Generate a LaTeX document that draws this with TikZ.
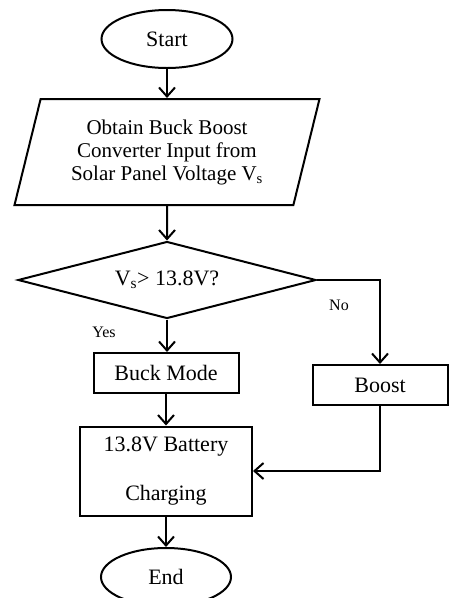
\documentclass[tikz,border=0pt]{standalone}
\usepackage{fontspec}
\setmainfont{Liberation Serif}
\usetikzlibrary{shapes.geometric, arrows.meta}
\begin{document}
\begin{tikzpicture}[x=1pt, y=-1pt, line width=2pt,
		  term/.style={ellipse, draw, minimum width=131pt, minimum height=58pt, font=\fontsize{22}{26}\selectfont},
		  io box/.style={trapezium, draw, trapezium left angle=70, trapezium right angle=110, trapezium stretches body,
		    minimum width=305pt, minimum height=106pt, align=center, font=\fontsize{21}{23}\selectfont},
		  cond box/.style={diamond, draw, aspect=3.9, minimum width=298pt, minimum height=77pt, inner sep=1pt, font=\fontsize{22}{26}\selectfont},
		  proc box/.style={rectangle, draw, align=center, font=\fontsize{22}{26}\selectfont},
		  branch/.style={font=\fontsize{16}{18}\selectfont},
		  flow/.style={-{Straight Barb[length=9pt, width=16pt]}}]
		  \useasboundingbox (0,0) rectangle (448,598);
		  \node[term] (start) at (167,39) {Start};
		  \node[io box] (input) at (167,152) {Obtain Buck Boost\\Converter Input from\\Solar Panel Voltage V\textsubscript{s}};
		  \node[cond box] (dec) at (167,280) {V\textsubscript{s}> 13.8V?};
		  \node[proc box, minimum width=145pt, minimum height=40pt] (buck) at (166,373) {Buck Mode};
		  \node[proc box, minimum width=135pt, minimum height=40pt] (boost) at (380,385) {Boost};
		  \node[proc box, minimum width=172pt, minimum height=89pt] (batt) at (166,471) {13.8V Battery\\[23pt]Charging};
		  \node[term, minimum width=130pt] (end) at (166,577) {End};
		  \node[branch] (yes) at (104,332) {Yes};
		  \node[branch] (no) at (339,305) {No};
		  \draw[flow] (start) -- (input);
		  \draw[flow] (input.south) -- (dec.north);
		  \draw[flow] (dec.south) -- (buck.north -| dec.south);
		  \draw[flow] (dec.east) -| (boost.north);
		  \draw[flow] (buck.south) -- (batt.north);
		  \draw[flow] (boost.south) |- (batt.east);
		  \draw[flow] (batt.south) -- (end.north);
	\end{tikzpicture}
\end{document}
